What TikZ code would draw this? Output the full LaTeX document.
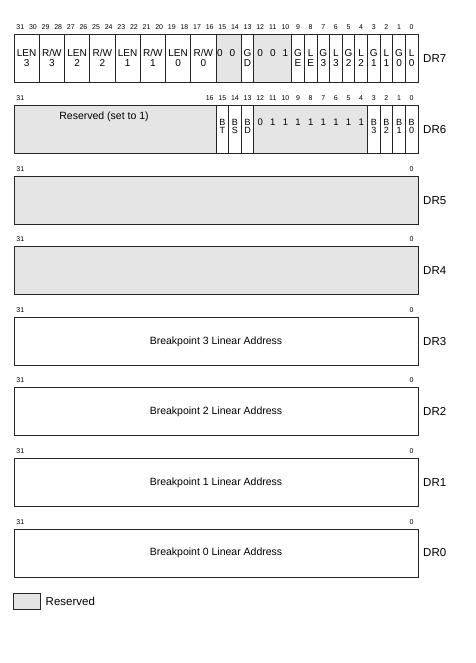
\documentclass[tikz,border=0pt]{standalone}
\usepackage{fontspec}
\setmainfont{Liberation Sans}
\begin{document}
\begin{tikzpicture}[x=1pt,y=-1pt,
  frame/.style={draw=black!85, line width=1pt},
  rsv/.style={fill=black!10},
  bitnum/.style={font=\fontsize{7}{7}\selectfont, inner sep=0, anchor=base},
  fld/.style={font=\fontsize{10}{10.5}\selectfont, inner sep=0, align=center, anchor=north},
  fldsm/.style={font=\fontsize{9}{8.3}\selectfont, inner sep=0, align=center, anchor=north},
  dig/.style={font=\fontsize{10}{10}\selectfont, inner sep=0, anchor=base},
  digsm/.style={font=\fontsize{9.5}{9.5}\selectfont, inner sep=0, anchor=base},
  reg/.style={font=\fontsize{11.5}{12}\selectfont, anchor=west, inner sep=0},
  big/.style={font=\fontsize{10.5}{12}\selectfont, inner sep=0}]
\useasboundingbox (0,0) rectangle (475,663);
\def\W{12.625}
\def\X{14}
\def\R{418}
\def\H{48}
\def\tA{35}
\def\tB{105.57}
\def\tC{176.14}
\def\tD{246.71}
\def\tE{317.29}
\def\tF{387.86}
\def\tG{458.43}
\def\tH{529}

% ---------------- DR7 ----------------
\fill[rsv] ({\X+16*\W},\tA) rectangle ({\X+18*\W},{\tA+\H});
\fill[rsv] ({\X+19*\W},\tA) rectangle ({\X+22*\W},{\tA+\H});
\foreach \n in {2,4,6,8,10,12,14,16,18,19,22,23,24,25,26,27,28,29,30,31}
  \draw[frame] ({\X+\n*\W},\tA) -- ({\X+\n*\W},{\tA+\H});
\draw[frame] (\X,\tA) rectangle (\R,{\tA+\H});
\foreach \i in {0,...,31}
  \node[bitnum] (d7-\i) at ({\X+(31.5-\i)*\W},{\tA-5}) {\i};
\foreach \lab [count=\j from 0] in {LEN\\3,R/W\\3,LEN\\2,R/W\\2,LEN\\1,R/W\\1,LEN\\0,R/W\\0}
  \node[fld] (f7-\j) at ({\X+(2*\j+1)*\W},{\tA+14}) {\lab};
\foreach \lab/\n [count=\k] in {G\\D/18.5,G\\E/22.5,L\\E/23.5,G\\3/24.5,L\\3/25.5,G\\2/26.5,L\\2/27.5,G\\1/28.5,L\\1/29.5,G\\0/30.5,L\\0/31.5}
  \node[fld] (s7-\k) at ({\X+\n*\W},{\tA+14}) {\lab};
\foreach \dg/\n [count=\k] in {0/16.3,0/17.3,0/19.5,0/20.5,1/21.5}
  \node[dig] (z7-\k) at ({\X+\n*\W},{\tA+21.2}) {\dg};

% ---------------- DR6 ----------------
\fill[rsv] (\X,\tB) rectangle ({\X+16*\W},{\tB+\H});
\fill[rsv] ({\X+19*\W},\tB) rectangle ({\X+28*\W},{\tB+\H});
\foreach \n in {16,17,18,19,28,29,30,31}
  \draw[frame] ({\X+\n*\W},\tB) -- ({\X+\n*\W},{\tB+\H});
\draw[frame] (\X,\tB) rectangle (\R,{\tB+\H});
\node[bitnum] (d6-31) at ({\X+0.5*\W},{\tB-5}) {31};
\foreach \i in {0,...,16}
  \node[bitnum] (d6-\i) at ({\X+(31.5-\i)*\W},{\tB-5}) {\i};
\node[big, anchor=north] (res6) at (104,{\tB+6.5}) {Reserved (set to 1)};
\foreach \lab/\n [count=\k] in {B\\T/16.5,B\\S/17.5,B\\D/18.5,B\\3/28.5,B\\2/29.5,B\\1/30.5,B\\0/31.5}
  \node[fldsm] (s6-\k) at ({\X+\n*\W},{\tB+13.3}) {\lab};
\foreach \dg/\n [count=\k] in {0/19.5,1/20.5,1/21.5,1/22.5,1/23.5,1/24.5,1/25.5,1/26.5,1/27.5}
  \node[digsm] (z6-\k) at ({\X+\n*\W},{\tB+20.1}) {\dg};

% ---------------- DR5 .. DR0 ----------------
\foreach \yy/\nm in {\tC/5,\tD/4}{
  \draw[frame, rsv] (\X,\yy) rectangle (\R,{\yy+\H});
}
\foreach \yy/\nm in {\tE/3,\tF/2,\tG/1,\tH/0}{
  \draw[frame] (\X,\yy) rectangle (\R,{\yy+\H});
  \node[big] (bp\nm) at ({(\X+\R)/2},{\yy+24}) {Breakpoint \nm\ Linear Address};
}
\foreach \yy/\nm in {\tC/5,\tD/4,\tE/3,\tF/2,\tG/1,\tH/0}{
  \node[bitnum] (hi\nm) at ({\X+0.5*\W},{\yy-5}) {31};
  \node[bitnum] (lo\nm) at ({\X+31.5*\W},{\yy-5}) {0};
}

% register names
\foreach \yy/\nm in {\tA/7,\tB/6,\tC/5,\tD/4,\tE/3,\tF/2,\tG/1,\tH/0}
  \node[reg] (dr\nm) at (423,{\yy+24}) {DR\nm};

% legend
\draw[frame, rsv] (13,593) rectangle (40,609);
\node[reg] (legend) at (45.5,601) {Reserved};
\end{tikzpicture}
\end{document}
